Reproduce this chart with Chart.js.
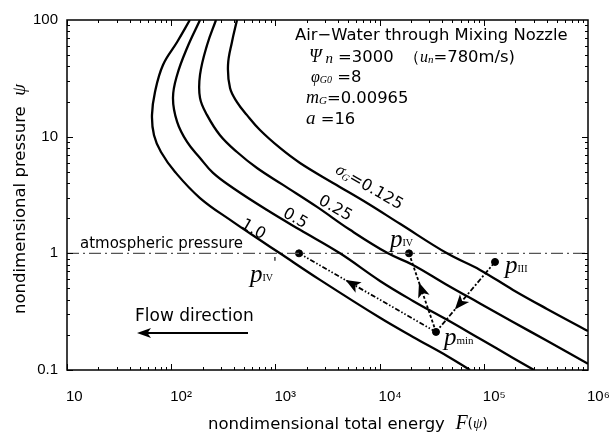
<!DOCTYPE html>
<html lang="en">
<head>
  <meta charset="utf-8" />
  <title>Air-Water through Mixing Nozzle</title>
  <script src="https://cdn.jsdelivr.net/npm/chart.js"></script>
  <style>
    body { margin: 0; background: #fff; }
    #chart-container { width: 613px; height: 434px; }
  </style>
</head>
<body>
  <div id="chart-container">
    <canvas id="nozzleChart"></canvas>
  </div>

  <script>
    // axis ticks (decades only)
    const xTicks = [10, 1e2, 1e3, 1e4, 1e5, 1e6];
    const xTickLabels = ["10", "10²", "10³", "10⁴", "10⁵", "10⁶"];
    const yTicks = [0.1, 1, 10, 100];
    const yTickLabels = ["0.1", "1", "10", "100"];

    // F(psi) curves for each sigma_G
    const sigmaLabels = ["1.0", "0.5", "0.25", "0.125"];
    const fSigma1    = [151, 114, 83.4, 69.9, 65.4, 68.4, 79.8, 109, 189, 392, 711, 1107, 2679, 10090, 20920, 44400, 73750];
    const psiSigma1  = [100, 64.8, 41.2, 24.2, 15.3, 10.3, 7.39, 4.98, 2.98, 1.86, 1.30, 1.0, 0.592, 0.280, 0.192, 0.132, 0.1];
    const fSigma05   = [189, 142, 114, 104, 114, 142, 189, 252, 392, 831, 1722, 4169, 10090, 20920, 44400, 91900, 190700, 303300];
    const psiSigma05 = [100, 57.6, 33.8, 21.5, 13.4, 9.01, 6.57, 4.89, 3.63, 2.35, 1.59, 1.0, 0.580, 0.391, 0.269, 0.185, 0.127, 0.1];
    const fSigma025   = [269, 221, 189, 189, 221, 294, 428, 666, 1183, 2507, 5198, 12040, 20920, 44400, 91900, 190700, 404000, 1e6];
    const psiSigma025 = [100, 61.1, 33.8, 21.5, 15.3, 10.3, 7.39, 5.39, 3.86, 2.50, 1.59, 1.0, 0.796, 0.536, 0.372, 0.258, 0.178, 0.113];
    const fSigma0125   = [428, 383, 351, 367, 428, 534, 711, 1107, 1722, 3571, 7570, 15700, 44400, 91900, 190700, 404000, 1e6];
    const psiSigma0125 = [100, 64.8, 41.2, 26.1, 19.8, 15.3, 11.4, 8.0, 5.95, 4.01, 2.70, 1.79, 1.0, 0.721, 0.486, 0.334, 0.216];

    // atmospheric pressure line
    const atmF = [10, 1e6];
    const atmPsi = [1, 1];

    // state points: pIV', pmin, pIV, pIII
    const pointNames = ["pIV'", "pmin", "pIV", "pIII"];
    const pointF   = [1685, 34770, 19150, 128100];
    const pointPsi = [1.0, 0.212, 1.0, 0.844];

    const SANS = "'DejaVu Sans', sans-serif";
    const TICKF = "'Liberation Sans', Arial, sans-serif";
    const SERIF = "'Liberation Serif', 'DejaVu Serif', serif";

    const xy = (fArr, pArr) => fArr.map((v, i) => ({ x: v, y: pArr[i] }));
    const pt = i => ({ x: pointF[i], y: pointPsi[i] });

    const curves = [
      [fSigma1, psiSigma1], [fSigma05, psiSigma05],
      [fSigma025, psiSigma025], [fSigma0125, psiSigma0125]
    ];

    const datasets = curves.map(([f, p], i) => ({
      label: sigmaLabels[i],
      data: xy(f, p),
      showLine: true,
      borderColor: "#000",
      borderWidth: 2.3,
      pointRadius: 0,
      tension: 0.4,
      fill: false
    }));

    datasets.push({
      label: "atm",
      data: xy(atmF, atmPsi),
      showLine: true,
      borderColor: "#555",
      borderWidth: 1.3,
      borderDash: [12, 4, 2, 4],
      pointRadius: 0
    });
    // pmin -> pIV'
    datasets.push({ data: [pt(1), pt(0)], showLine: true, borderColor: "#000", borderWidth: 1.8, borderDash: [5, 2, 1.5, 2, 1.5, 2], pointRadius: 0 });
    // pmin -> pIV
    datasets.push({ data: [pt(1), pt(2)], showLine: true, borderColor: "#000", borderWidth: 1.8, borderDash: [3, 2], pointRadius: 0 });
    // pIII -> pmin
    datasets.push({ data: [pt(3), pt(1)], showLine: true, borderColor: "#000", borderWidth: 1.8, borderDash: [5, 2, 2, 2], pointRadius: 0 });
    // dots
    datasets.push({ data: pointF.map((v, i) => pt(i)), showLine: false, pointRadius: 3.5, pointBackgroundColor: "#000", pointBorderColor: "#000" });

    // draw a run of text pieces: [text, font, dy]
    function rich(ctx, x, y, parts, align) {
      let w = 0;
      parts.forEach(([t, f]) => { ctx.font = f; w += ctx.measureText(t).width; });
      let cx = align === "center" ? x - w / 2 : x;
      ctx.textAlign = "left";
      parts.forEach(([t, f, dy]) => {
        ctx.font = f;
        ctx.fillText(t, cx, y + (dy || 0));
        cx += ctx.measureText(t).width;
      });
    }

    function arrowHead(ctx, x1, y1, x2, y2, t, len, half) {
      const px = x1 + (x2 - x1) * t, py = y1 + (y2 - y1) * t;
      const a = Math.atan2(y2 - y1, x2 - x1);
      ctx.save();
      ctx.translate(px, py);
      ctx.rotate(a);
      ctx.beginPath();
      ctx.moveTo(0, 0);
      ctx.lineTo(-len, -half);
      ctx.lineTo(-len * 0.75, 0);
      ctx.lineTo(-len, half);
      ctx.closePath();
      ctx.fill();
      ctx.restore();
    }

    const decor = {
      id: "decor",
      afterDatasetsDraw(chart) {
        const { ctx, chartArea: a, scales: { x, y } } = chart;
        ctx.save();
        ctx.fillStyle = "#000";
        ctx.strokeStyle = "#000";

        // inward log tick marks on all four sides
        ctx.lineWidth = 1;
        ctx.beginPath();
        for (let e = 1; e < 6; e++) {
          for (let m = 1; m < 10; m++) {
            const px = Math.round(x.getPixelForValue(m * Math.pow(10, e))) + 0.5;
            const len = m === 1 ? 6 : 3;
            ctx.moveTo(px, a.bottom); ctx.lineTo(px, a.bottom - len);
            ctx.moveTo(px, a.top); ctx.lineTo(px, a.top + len);
          }
        }
        for (let e = -1; e < 2; e++) {
          for (let m = 1; m < 10; m++) {
            const py = Math.round(y.getPixelForValue(m * Math.pow(10, e))) + 0.5;
            const len = m === 1 ? 6 : 3;
            ctx.moveTo(a.left, py); ctx.lineTo(a.left + len, py);
            ctx.moveTo(a.right, py); ctx.lineTo(a.right - len, py);
          }
        }
        ctx.stroke();

        // frame
        ctx.lineWidth = 1.5;
        ctx.strokeRect(a.left, a.top, a.right - a.left, a.bottom - a.top);

        // x tick labels, starting at each decade tick
        ctx.textBaseline = "middle";
        ctx.textAlign = "left";
        ctx.font = "15px " + TICKF;
        xTicks.forEach((v, i) => ctx.fillText(xTickLabels[i], x.getPixelForValue(v) - 1, a.bottom + 27));

        // arrows on the process path
        const P = pointF.map((v, i) => [x.getPixelForValue(v), y.getPixelForValue(pointPsi[i])]);
        arrowHead(ctx, P[1][0], P[1][1], P[0][0], P[0][1], 0.66, 15, 6);
        arrowHead(ctx, P[1][0], P[1][1], P[2][0], P[2][1], 0.63, 15, 6);
        arrowHead(ctx, P[3][0], P[3][1], P[1][0], P[1][1], 0.68, 15, 6);

        // flow direction arrow
        const fy = a.top + 313, fx1 = a.left + 181, fx2 = a.left + 70;
        ctx.lineWidth = 2;
        ctx.beginPath(); ctx.moveTo(fx1, fy); ctx.lineTo(fx2 + 8, fy); ctx.stroke();
        arrowHead(ctx, fx1, fy, fx2, fy, 1, 14, 5);

        ctx.textBaseline = "alphabetic";
        const it = s => "italic " + s + "px " + SERIF;
        const rm = s => s + "px " + SERIF;
        const sn = s => s + "px " + SANS;

        rich(ctx, a.left + 68, a.top + 301, [["Flow direction", sn(17)]]);
        rich(ctx, a.left + 13, a.top + 228, [["atmospheric pressure", sn(15)]]);

        // parameter block
        rich(ctx, 295, 40, [["Air−Water through Mixing Nozzle", sn(16.4)]]);
        rich(ctx, 309, 62, [["Ψ", it(18)], [" n", it(15), 1], [" =3000", sn(16.4)], ["  （", sn(16.4)], ["u", it(16)], ["n", it(11), 1], ["=780m/s)", sn(16.4)]]);
        rich(ctx, 311, 82, [["φ", it(16)], ["G0", it(10), 1], [" =8", sn(16.4)]]);
        rich(ctx, 306, 103, [["m", it(18)], ["G", it(11), 1], ["=0.00965", sn(16.4)]]);
        rich(ctx, 306, 124, [["a", it(19)], [" =16", sn(16.4)]]);

        // sigma labels along the curves
        const rot = 0.52;
        const lab = (cx, cy, parts) => {
          ctx.save(); ctx.translate(cx, cy); ctx.rotate(rot);
          rich(ctx, 0, 6, parts, "center");
          ctx.restore();
        };
        lab(370, 186, [["σ", it(17)], ["G", it(10), 2], ["=0.125", sn(16)]]);
        lab(336, 207, [["0.25", sn(16)]]);
        lab(296, 217, [["0.5", sn(16)]]);
        lab(254, 228, [["1.0", sn(16)]]);

        // point labels
        rich(ctx, P[2][0] - 19, P[2][1] - 6, [["p", it(25)], ["IV", rm(10), -1]]);
        rich(ctx, P[3][0] + 10, P[3][1] + 11, [["p", it(25)], ["III", rm(10), -1]]);
        rich(ctx, P[1][0] + 8, P[1][1] + 13, [["p", it(25)], ["min", rm(11), -1]]);
        rich(ctx, P[0][0] - 49, P[0][1] + 29, [["p", it(25)], ["IV", rm(10), -1], ["'", sn(14), -15]]);

        // axis titles
        rich(ctx, 208, 429, [["nondimensional total energy  ", sn(16.5)], ["F", it(20)], ["(", sn(14), -1], ["ψ", it(15), -1], [")", sn(14), -1]]);
        ctx.save();
        ctx.translate(25, 199);
        ctx.rotate(-Math.PI / 2);
        rich(ctx, 0, 0, [["nondimensional pressure  ", sn(16.5)], ["ψ", it(19)]], "center");
        ctx.restore();

        ctx.restore();
      }
    };

    const ctx = document.getElementById("nozzleChart").getContext("2d");
    new Chart(ctx, {
      type: "scatter",
      data: { datasets: datasets },
      options: {
        responsive: true,
        maintainAspectRatio: false,
        animation: false,
        layout: { padding: { left: 0, top: 20, right: 25, bottom: 0 } },
        plugins: { legend: { display: false }, tooltip: { enabled: false } },
        scales: {
          x: {
            type: "logarithmic",
            min: 10,
            max: 1e6,
            afterBuildTicks: s => { s.ticks = xTicks.map(v => ({ value: v })); },
            afterFit: s => { s.height = 64; },
            grid: { display: false, drawTicks: false },
            border: { display: false },
            ticks: { display: false }
          },
          y: {
            type: "logarithmic",
            min: 0.1,
            max: 100,
            afterBuildTicks: s => { s.ticks = yTicks.map(v => ({ value: v })); },
            afterFit: s => { s.width = 67; },
            grid: { display: false, drawTicks: false },
            border: { display: false },
            ticks: {
              color: "#000",
              padding: 9,
              autoSkip: false,
              font: { family: TICKF, size: 15 },
              callback: v => yTickLabels[yTicks.indexOf(v)]
            }
          }
        }
      },
      plugins: [decor]
    });
  </script>
</body>
</html>
